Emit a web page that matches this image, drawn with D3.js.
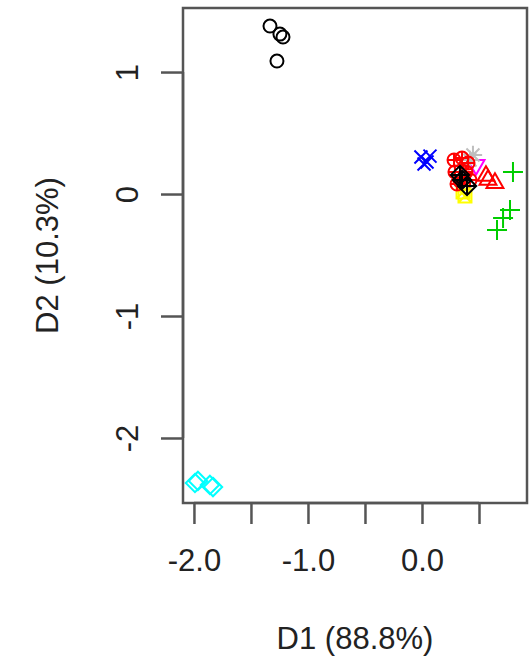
<!DOCTYPE html>
<html>
<head>
<meta charset="utf-8">
<script src="https://cdn.jsdelivr.net/npm/d3@7"></script>
<style>
  body { margin: 0; background: #fff; }
  svg { display: block; font-family: "Liberation Sans", Arial, sans-serif; }
</style>
</head>
<body>
<script>
// group of each sample (1..10), drawn in this order
const groups = [1, 1, 1, 1,
                2, 2, 2,
                3, 3, 3, 3,
                4, 4, 4, 4,
                5, 5, 5, 5,
                6,
                7, 7,
                8, 8,
                10, 10, 10, 10, 10, 10, 10, 10,
                9, 9, 9];
const d1 = [-1.333, -1.246, -1.219, -1.272,
            0.579, 0.640, 0.561,
            0.798, 0.772, 0.711, 0.658,
            -0.009, 0.044, 0.070, 0.018,
            -1.991, -1.965, -1.860, -1.833,
            0.474,
            0.377, 0.360,
            0.447, 0.421,
            0.281, 0.351, 0.404, 0.289, 0.386, 0.333, 0.421, 0.307,
            0.351, 0.395, 0.333];
const d2 = [1.377, 1.311, 1.287, 1.090,
            0.115, 0.090, 0.148,
            0.180, -0.131, -0.197, -0.295,
            0.303, 0.262, 0.311, 0.246,
            -2.369, -2.352, -2.385, -2.402,
            0.238,
            -0.016, 0.016,
            0.320, 0.279,
            0.279, 0.295, 0.254, 0.180, 0.180, 0.107, 0.115, 0.082,
            0.115, 0.066, 0.156];
const xTicks = [-2.0, -1.5, -1.0, -0.5, 0.0, 0.5];
const xTickLabels = ["-2.0", "", "-1.0", "", "0.0", ""];
const yTicks = [1, 0, -1, -2];
const yTickLabels = ["1", "0", "-1", "-2"];
const xTitle = "D1 (88.8%)";
const yTitle = "D2 (10.3%)";

const width = 531, height = 657;
const box = {left: 183, right: 527, top: 8, bottom: 503};

const svg = d3.select("body").append("svg")
    .attr("width", width)
    .attr("height", height);

const x = d3.scaleLinear().domain([-2.096, 0.921]).range([box.left, box.right]);
const y = d3.scaleLinear().domain([-2.533, 1.525]).range([box.bottom, box.top]);

// old R default palette
const rPalette = ["black", "#ff0000", "#00cd00", "#0000ff", "#00ffff", "#ff00ff", "#ffff00", "#bebebe"];

const r = 6.5;
function pchPath(pch) {
  const p = d3.path();
  const s2 = r * Math.SQRT2;
  const circle = () => { p.moveTo(r, 0); p.arc(0, 0, r, 0, 2 * Math.PI); };
  const plus = (h) => { p.moveTo(-h, 0); p.lineTo(h, 0); p.moveTo(0, -h); p.lineTo(0, h); };
  const cross = (h) => { p.moveTo(-h, -h); p.lineTo(h, h); p.moveTo(-h, h); p.lineTo(h, -h); };
  const diamond = () => { p.moveTo(0, -s2); p.lineTo(s2, 0); p.lineTo(0, s2); p.lineTo(-s2, 0); p.closePath(); };
  const tri = (dir) => {
    const t = r * 1.5;
    p.moveTo(0, -dir * t);
    p.lineTo(t * 0.866, dir * t * 0.5);
    p.lineTo(-t * 0.866, dir * t * 0.5);
    p.closePath();
  };
  switch (pch) {
    case 1: circle(); break;
    case 2: tri(1); break;
    case 3: plus(10); break;
    case 4: cross(r); break;
    case 5: diamond(); break;
    case 6: tri(-1); break;
    case 7: p.rect(-r, -r, 2 * r, 2 * r); cross(r); break;
    case 8: plus(s2); cross(r); break;
    case 9: diamond(); plus(s2); break;
    case 10: circle(); plus(r); break;
  }
  return p.toString();
}

const points = d3.range(d1.length).map(i => ({g: groups[i], x: d1[i], y: d2[i]}));

svg.append("g")
  .selectAll("path")
  .data(points)
  .join("path")
    .attr("transform", d => `translate(${x(d.x)},${y(d.y)})`)
    .attr("d", d => pchPath(d.g))
    .attr("fill", "none")
    .attr("stroke", d => rPalette[(d.g - 1) % 8])
    .attr("stroke-width", 2);

// box
svg.append("rect")
    .attr("x", box.left).attr("y", box.top)
    .attr("width", box.right - box.left).attr("height", box.bottom - box.top)
    .attr("fill", "none").attr("stroke", "#555").attr("stroke-width", 2.5);

// axes
const xAxis = svg.append("g")
    .attr("transform", `translate(0,${box.bottom})`)
    .call(d3.axisBottom(x).tickValues(xTicks).tickSize(21).tickPadding(25)
      .tickFormat((d, i) => xTickLabels[i]));
const yAxis = svg.append("g")
    .attr("transform", `translate(${box.left},0)`)
    .call(d3.axisLeft(y).tickValues(yTicks).tickSize(22)
      .tickFormat((d, i) => yTickLabels[i]));

[xAxis, yAxis].forEach(a => {
  a.select(".domain").attr("stroke", "#555").attr("stroke-width", 2.5);
  a.selectAll(".tick line").attr("stroke", "#555").attr("stroke-width", 2.5);
  a.selectAll("text").attr("font-size", 31).attr("fill", "#222")
    .attr("font-family", "Liberation Sans, Arial, sans-serif");
});
xAxis.select(".domain").attr("d", `M${x(-2)},0H${x(0.5)}`);
yAxis.select(".domain").attr("d", `M0,${y(-2)}V${y(1)}`);

yAxis.selectAll(".tick text")
    .attr("x", null).attr("dy", null)
    .attr("text-anchor", "middle")
    .attr("transform", "translate(-56,0) rotate(-90) translate(0,11)");

svg.append("text")
    .attr("x", (box.left + box.right) / 2).attr("y", 649)
    .attr("text-anchor", "middle").attr("font-size", 31).attr("fill", "#222")
    .text(xTitle);

svg.append("text")
    .attr("transform", `translate(58,${(box.top + box.bottom) / 2}) rotate(-90)`)
    .attr("text-anchor", "middle").attr("font-size", 31).attr("fill", "#222")
    .text(yTitle);
</script>
</body>
</html>
